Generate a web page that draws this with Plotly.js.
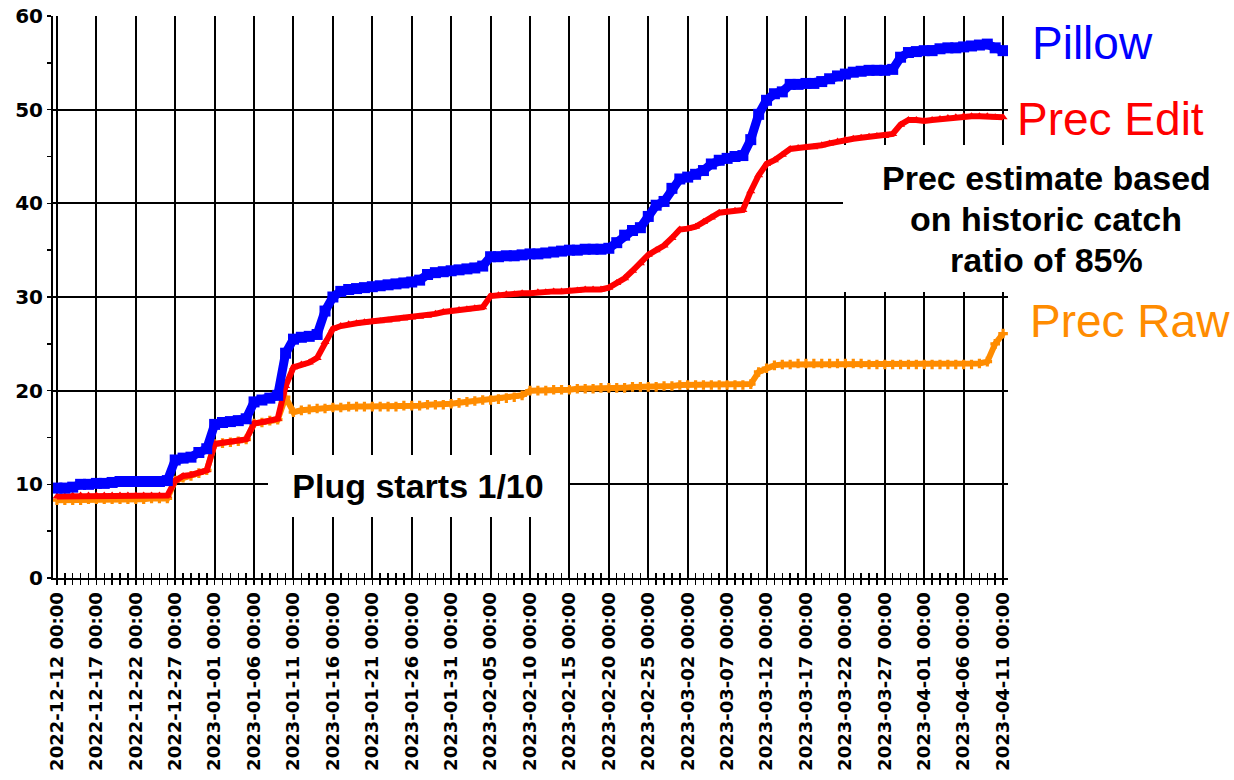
<!DOCTYPE html>
<html>
<head>
<meta charset="utf-8">
<script src="https://cdn.plot.ly/plotly-3.0.1.min.js"></script>
<style>html,body{margin:0;padding:0;background:#fff;}#chart{width:1234px;height:780px;}</style>
</head>
<body>
<div id="chart"></div>
<script>
const dates = [
"2022-12-12","2022-12-13","2022-12-14","2022-12-15","2022-12-16","2022-12-17","2022-12-18","2022-12-19","2022-12-20","2022-12-21",
"2022-12-22","2022-12-23","2022-12-24","2022-12-25","2022-12-26","2022-12-27","2022-12-28","2022-12-29","2022-12-30","2022-12-31",
"2023-01-01","2023-01-02","2023-01-03","2023-01-04","2023-01-05","2023-01-06","2023-01-07","2023-01-08","2023-01-09","2023-01-10",
"2023-01-11","2023-01-12","2023-01-13","2023-01-14","2023-01-15","2023-01-16","2023-01-17","2023-01-18","2023-01-19","2023-01-20",
"2023-01-21","2023-01-22","2023-01-23","2023-01-24","2023-01-25","2023-01-26","2023-01-27","2023-01-28","2023-01-29","2023-01-30",
"2023-01-31","2023-02-01","2023-02-02","2023-02-03","2023-02-04","2023-02-05","2023-02-06","2023-02-07","2023-02-08","2023-02-09",
"2023-02-10","2023-02-11","2023-02-12","2023-02-13","2023-02-14","2023-02-15","2023-02-16","2023-02-17","2023-02-18","2023-02-19",
"2023-02-20","2023-02-21","2023-02-22","2023-02-23","2023-02-24","2023-02-25","2023-02-26","2023-02-27","2023-02-28","2023-03-01",
"2023-03-02","2023-03-03","2023-03-04","2023-03-05","2023-03-06","2023-03-07","2023-03-08","2023-03-09","2023-03-10","2023-03-11",
"2023-03-12","2023-03-13","2023-03-14","2023-03-15","2023-03-16","2023-03-17","2023-03-18","2023-03-19","2023-03-20","2023-03-21",
"2023-03-22","2023-03-23","2023-03-24","2023-03-25","2023-03-26","2023-03-27","2023-03-28","2023-03-29","2023-03-30","2023-03-31",
"2023-04-01","2023-04-02","2023-04-03","2023-04-04","2023-04-05","2023-04-06","2023-04-07","2023-04-08","2023-04-09","2023-04-10",
"2023-04-11"
];

const pillow = [
9.6,9.6,9.7,10.0,10.0,10.1,10.1,10.2,10.3,10.3,
10.3,10.3,10.3,10.3,10.4,12.6,12.8,12.9,13.4,13.8,
16.4,16.6,16.7,16.8,17.0,18.8,19.0,19.2,19.5,24.0,
25.5,25.7,25.8,26.0,28.5,30.0,30.6,30.8,30.9,31.0,
31.1,31.2,31.3,31.4,31.5,31.6,31.8,32.4,32.6,32.7,
32.8,32.9,33.0,33.1,33.3,34.3,34.3,34.4,34.4,34.5,
34.6,34.6,34.7,34.8,34.9,35.0,35.0,35.1,35.1,35.1,
35.2,35.8,36.6,37.1,37.4,38.6,39.8,40.2,41.6,42.6,
42.8,43.1,43.5,44.2,44.6,44.8,45.0,45.1,46.8,49.5,
51.0,51.7,51.9,52.7,52.7,52.8,52.8,53.0,53.3,53.6,
53.8,54.0,54.1,54.2,54.2,54.2,54.3,55.6,56.1,56.2,
56.3,56.3,56.5,56.6,56.6,56.7,56.8,56.9,57.0,56.6,
56.3
];

const precEdit = [
8.7,8.7,8.8,8.8,8.8,8.8,8.8,8.8,8.8,8.8,
8.8,8.8,8.8,8.8,8.8,10.4,10.9,11.0,11.2,11.5,
14.3,14.4,14.5,14.6,14.8,16.5,16.6,16.8,17.0,20.5,
22.5,22.8,23.0,23.5,25.2,26.6,26.9,27.1,27.2,27.3,
27.4,27.4,27.5,27.6,27.7,27.8,27.9,28.0,28.2,28.4,
28.5,28.6,28.7,28.8,28.9,30.1,30.2,30.3,30.3,30.4,
30.4,30.5,30.5,30.6,30.6,30.7,30.7,30.8,30.8,30.8,
31.0,31.5,32.0,32.8,33.6,34.5,35.0,35.5,36.3,37.2,
37.3,37.5,38.0,38.5,39.0,39.1,39.2,39.3,41.3,43.0,
44.2,44.6,45.2,45.8,45.9,46.0,46.0,46.2,46.4,46.6,
46.8,46.9,47.0,47.1,47.2,47.2,47.4,48.4,48.9,48.9,
48.8,48.9,49.0,49.1,49.2,49.3,49.3,49.3,49.3,49.2,
49.2
];

const precRaw = [
8.3,8.3,8.3,8.3,8.4,8.4,8.4,8.4,8.4,8.4,
8.4,8.4,8.5,8.5,8.5,10.4,10.7,10.9,11.2,11.5,
14.3,14.4,14.5,14.6,14.8,16.5,16.6,16.8,16.9,19.3,
17.7,17.9,18.0,18.1,18.1,18.2,18.2,18.3,18.3,18.3,
18.3,18.3,18.3,18.3,18.4,18.4,18.4,18.5,18.5,18.5,
18.6,18.7,18.8,18.9,19.0,19.0,19.1,19.2,19.3,19.5,
20.0,20.0,20.0,20.1,20.1,20.1,20.2,20.2,20.2,20.3,
20.3,20.3,20.3,20.4,20.4,20.4,20.4,20.5,20.5,20.6,
20.6,20.6,20.6,20.6,20.6,20.6,20.6,20.6,20.7,22.0,
22.4,22.7,22.8,22.8,22.9,22.9,22.9,22.9,22.9,22.9,
22.9,22.9,22.9,22.8,22.8,22.8,22.8,22.8,22.8,22.8,
22.8,22.8,22.8,22.8,22.8,22.8,22.8,22.9,23.1,25.0,
26.1
];

const seriesNames = ["Pillow", "Prec Edit", "Prec Raw"];
const noteLines = ["Prec estimate based", "on historic catch", "ratio of 85%"];
const plugNote = "Plug starts 1/10";
const xRange = ["2022-12-11 12:00", "2023-04-11 15:00"];
const yTicks = [0, 10, 20, 30, 40, 50, 60];

const BLUE = "#0000ff", RED = "#ff0000", ORANGE = "#ff8c00";
const ANN_FONT = "Liberation Sans, Arial, sans-serif";

const traces = [
  {x: dates, y: precRaw, name: seriesNames[2], type: "scatter", mode: "lines+markers",
   line: {color: ORANGE, width: 6}, marker: {color: ORANGE, symbol: "cross", size: 8}},
  {x: dates, y: precEdit, name: seriesNames[1], type: "scatter", mode: "lines+markers",
   line: {color: RED, width: 6}, marker: {color: RED, symbol: "triangle-up", size: 8}},
  {x: dates, y: pillow, name: seriesNames[0], type: "scatter", mode: "lines+markers",
   line: {color: BLUE, width: 9}, marker: {color: BLUE, symbol: "square", size: 11}},
  {x: [dates[0]], y: [null], xaxis: "x2", yaxis: "y", type: "scatter", mode: "lines",
   showlegend: false, hoverinfo: "skip"}
];

const tickFont = {family: "DejaVu Sans", size: 18, color: "#000", weight: "bold"};

const layout = {
  width: 1234, height: 780,
  margin: {l: 53, r: 226, t: 16, b: 202, pad: 0},
  paper_bgcolor: "#fff", plot_bgcolor: "#fff",
  showlegend: false,
  xaxis: {
    type: "date", range: xRange,
    tick0: "2022-12-12", dtick: 5 * 86400000,
    tickformat: "%Y-%m-%d %H:%M", tickangle: -90,
    tickfont: tickFont,
    ticks: "outside", ticklen: 5, tickcolor: "#000", tickwidth: 1.5,
    showgrid: true, gridcolor: "#000", gridwidth: 2,
    showline: true, linecolor: "#000", linewidth: 2,
    zeroline: false,
    minor: {dtick: 86400000, tick0: "2022-12-12", ticks: "outside", ticklen: 5, tickcolor: "#000", tickwidth: 1.5, showgrid: false}
  },
  xaxis2: {
    type: "date", range: xRange, overlaying: "x", anchor: "y", side: "bottom",
    tick0: "2022-12-12", dtick: 5 * 86400000,
    showticklabels: false, showgrid: false, zeroline: false, showline: false,
    ticks: "inside", ticklen: 5, tickcolor: "#000", tickwidth: 1.5,
    minor: {dtick: 86400000, tick0: "2022-12-12", ticks: "inside", ticklen: 5, tickcolor: "#000", tickwidth: 1.5, showgrid: false}
  },
  yaxis: {
    range: [0, 60], tickvals: yTicks, ticktext: yTicks.map(String),
    tickfont: {family: "DejaVu Sans", size: 20, color: "#000", weight: "bold"},
    ticks: "outside", ticklen: 4, tickcolor: "#000", tickwidth: 1.5,
    showgrid: true, gridcolor: "#000", gridwidth: 2,
    showline: true, linecolor: "#000", linewidth: 2,
    zeroline: false,
    minor: {dtick: 5, ticks: "outside", ticklen: 4, tickcolor: "#000", tickwidth: 1.5, showgrid: false}
  },
  annotations: [
    {xref: "paper", yref: "paper", x: 1.0230, y: 0.9520, xanchor: "left", yanchor: "middle",
     text: seriesNames[0], showarrow: false, font: {family: ANN_FONT, size: 46, color: BLUE}},
    {xref: "paper", yref: "paper", x: 1.0073, y: 0.8167, xanchor: "left", yanchor: "middle",
     text: seriesNames[1], showarrow: false, font: {family: ANN_FONT, size: 46, color: RED}},
    {xref: "paper", yref: "paper", x: 1.0209, y: 0.4573, xanchor: "left", yanchor: "middle",
     text: seriesNames[2], showarrow: false, font: {family: ANN_FONT, size: 46, color: ORANGE}},
    {xref: "paper", yref: "paper", x: 1.0319, y: 0.6397, xanchor: "center", yanchor: "middle",
     text: " ", showarrow: false, width: 391, height: 147, bgcolor: "#fff", borderpad: 0, borderwidth: 0,
     font: {family: ANN_FONT, size: 12}},
    {xref: "paper", yref: "paper", x: 1.0398, y: 0.7117, xanchor: "center", yanchor: "middle",
     text: "<b>" + noteLines[0] + "</b>", showarrow: false, font: {family: ANN_FONT, size: 34, color: "#000"}},
    {xref: "paper", yref: "paper", x: 1.0398, y: 0.6388, xanchor: "center", yanchor: "middle",
     text: "<b>" + noteLines[1] + "</b>", showarrow: false, font: {family: ANN_FONT, size: 34, color: "#000"}},
    {xref: "paper", yref: "paper", x: 1.0398, y: 0.5658, xanchor: "center", yanchor: "middle",
     text: "<b>" + noteLines[2] + "</b>", showarrow: false, font: {family: ANN_FONT, size: 34, color: "#000"}},
    {xref: "paper", yref: "paper", x: 0.3822, y: 0.1637, xanchor: "center", yanchor: "middle",
     text: "<b>" + plugNote + "</b>", showarrow: false, width: 300, height: 62, bgcolor: "#fff",
     borderpad: 0, borderwidth: 0, font: {family: ANN_FONT, size: 34, color: "#000"}}
  ]
};

Plotly.newPlot("chart", traces, layout, {staticPlot: true, displayModeBar: false});
</script>
</body>
</html>
